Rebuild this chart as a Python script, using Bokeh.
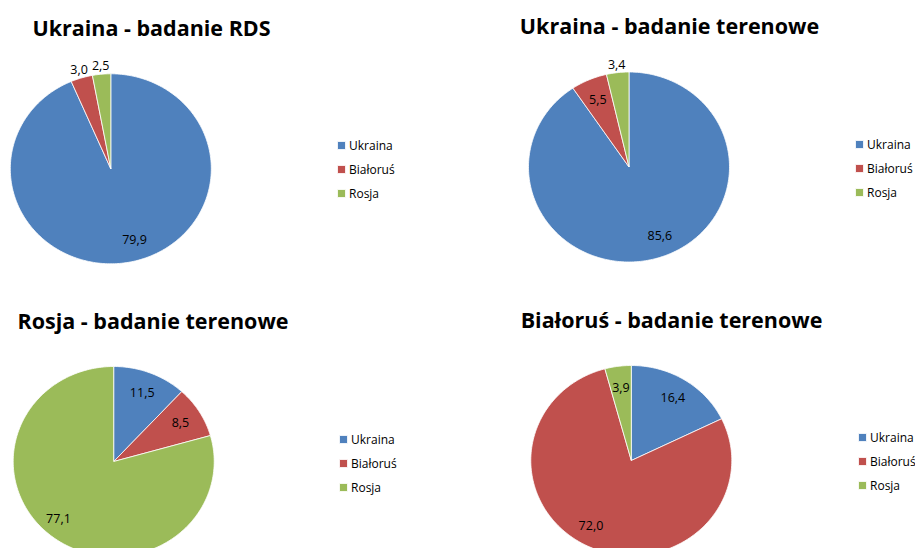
import numpy as np
from bokeh.plotting import figure
from bokeh.models import ColumnDataSource, Legend, LegendItem, Range1d
from bokeh.core.properties import value
from bokeh.embed import file_html
from bokeh.resources import INLINE

# ---- data ----
countries = ["Ukraina", "Białoruś", "Rosja"]
colors = ["#4F81BD", "#C0504D", "#9BBB59"]

titles = [
    "Ukraina - badanie RDS",
    "Ukraina - badanie terenowe",
    "Rosja - badanie terenowe",
    "Białoruś - badanie terenowe",
]
ukraina_rds = [79.9, 3.0, 2.5]
ukraina_terenowe = [85.6, 5.5, 3.4]
rosja_terenowe = [11.5, 8.5, 77.1]
bialorus_terenowe = [16.4, 72.0, 3.9]
series = [ukraina_rds, ukraina_terenowe, rosja_terenowe, bialorus_terenowe]

# ---- layout (picture pixel coordinates) ----
W, H = 915, 548
centers = [(110.3, 168.3), (628.5, 166.5), (113.2, 461.0), (630.8, 460.0)]
RX, RY = 100.5, 95.0
title_pos = [(151, 27), (669, 25), (152.5, 320), (671, 319)]
legend_pos = [(336, 193), (854, 192), (338, 487), (857, 485)]  # x of glyph box, y centre of last item

FONT = "Open Sans"

p = figure(width=W, height=H, output_backend="svg", toolbar_location=None,
           x_range=Range1d(0, W), y_range=Range1d(H, 0),
           min_border=0, outline_line_color=None)
p.axis.visible = False
p.grid.visible = False
p.background_fill_color = "white"
p.border_fill_color = "white"

def fmt(v):
    return f"{v:.1f}".replace(".", ",")

for k, vals in enumerate(series):
    cx, cy = centers[k]
    tot = float(sum(vals))
    cum = np.concatenate([[0.0], np.cumsum(vals)]) / tot * 2 * np.pi
    xs, ys, lx, ly, lt = [], [], [], [], []
    for i in range(len(vals)):
        a0, a1 = cum[i], cum[i + 1]
        n = max(int(np.degrees(a1 - a0)) + 2, 3)
        t = np.linspace(a0, a1, n)
        xs.append(np.concatenate([[cx], cx + RX * np.sin(t), [cx]]))
        ys.append(np.concatenate([[cy], cy - RY * np.cos(t), [cy]]))
        mid = 0.5 * (a0 + a1)
        share = vals[i] / tot
        f = 1.09 if share < 0.04 else 0.78
        x_lab = cx + f * RX * np.sin(mid)
        if share > 0.5:  # best-fit labels of the dominant slice sit a little further out sideways
            x_lab += 8 * np.sign(np.sin(mid))
        lx.append(x_lab)
        ly.append(cy - f * RY * np.cos(mid) - (2 if share > 0.5 else 0))
        lt.append(fmt(vals[i]))
    src = ColumnDataSource(dict(xs=xs, ys=ys, color=colors, country=countries))
    r = p.patches("xs", "ys", source=src, fill_color="color", line_color="white",
                  line_width=0.8)
    p.text(x=lx, y=ly, text=lt, text_font=value(FONT), text_font_size="12.5px",
           text_align="center", text_baseline="middle", text_color="#000000")
    tx, ty = title_pos[k]
    p.text(x=[tx], y=[ty], text=[titles[k]], text_font=value(FONT),
           text_font_size="21.5px", text_font_style="bold", text_align="center",
           text_baseline="alphabetic", text_color="#000000")
    lxp, lyp = legend_pos[k]
    leg = Legend(items=[LegendItem(label=countries[i], renderers=[r], index=i)
                        for i in range(3)],
                 location=(lxp, H - (lyp + 8.5)),
                 padding=0, margin=0, border_line_color=None,
                 background_fill_alpha=0, glyph_width=10, glyph_height=10,
                 label_standoff=3, label_height=14, spacing=7,
                 label_text_font=FONT, label_text_font_size="12px",
                 label_text_color="#000000")
    p.add_layout(leg, "center")

open("out.html", "w").write(file_html(p, INLINE))
